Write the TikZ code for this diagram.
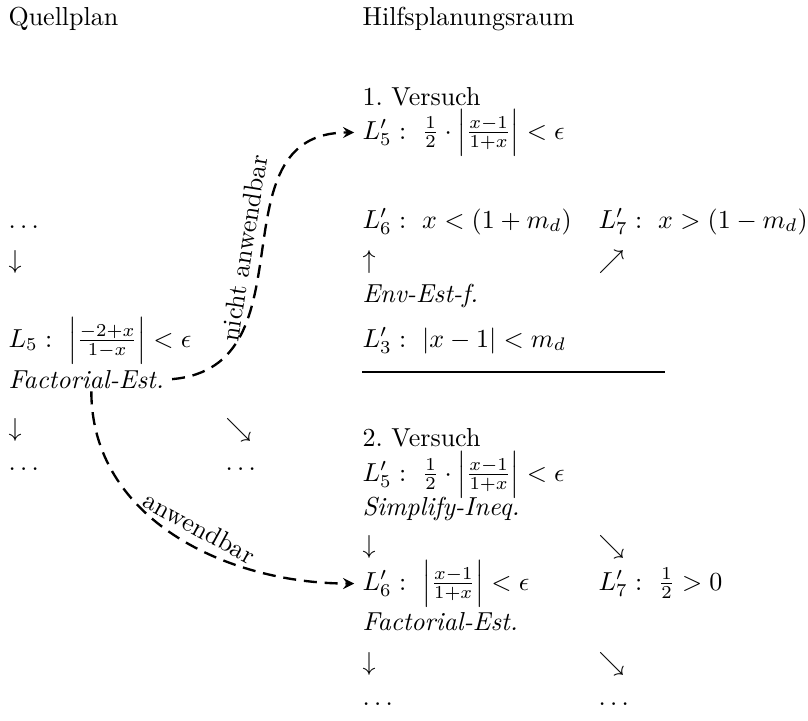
\documentclass[tikz,border=0pt]{standalone}
\usetikzlibrary{arrows}
\begin{document}
\begin{tikzpicture}[x=0.3846pt, y=-0.3846pt, line join=round, >=stealth,
    txt/.style={anchor=base west, inner sep=0pt},
    plan/.style={->, dash pattern=on 5pt off 3pt, line width=0.9pt}]
\useasboundingbox (0,0) rectangle (808,720);
% Kopfzeile
\node[txt] (quell) at (8,25) {Quellplan};
\node[txt] (hilfs) at (362,25) {Hilfsplanungsraum};
% Quellplan
\node[txt] (qdots) at (8,228) {$\ldots$};
\node[txt] (qdown) at (8,268) {$\downarrow$};
\node[txt] (qlfuenf) at (8,347) {$L_5 :\ \left|\frac{-2+x}{1-x}\right| < \epsilon$};
\node[txt] (qfact) at (8,388) {\textit{Factorial-Est.}};
\node[txt] (qdowna) at (8,436) {$\downarrow$};
\node[txt] (qdiag) at (225,436) {$\searrow$};
\node[txt] (qdotsa) at (8,470) {$\ldots$};
\node[txt] (qdotsb) at (225,470) {$\ldots$};
% 1. Versuch
\node[txt] (vers1) at (362,105) {1.\ Versuch};
\node[txt] (hlfuenf) at (362,139) {$L'_5 :\ \frac{1}{2}\cdot\left|\frac{x-1}{1+x}\right| < \epsilon$};
\node[txt] (hlsechs) at (362,228) {$L'_6 :\ x < (1+m_d)$};
\node[txt] (hlsieben) at (598,228) {$L'_7 :\ x > (1-m_d)$};
\node[txt] (hup) at (362,268) {$\uparrow$};
\node[txt] (hne) at (598,268) {$\nearrow$};
\node[txt] (henv) at (362,302) {\textit{Env-Est-f.}};
\node[txt] (hldrei) at (362,347) {$L'_3 :\ |x-1| < m_d$};
\draw[line width=0.8pt] (362,372) -- (665,372);
% 2. Versuch
\node[txt] (vers2) at (362,446) {2.\ Versuch};
\node[txt] (hlfuenfb) at (362,481) {$L'_5 :\ \frac{1}{2}\cdot\left|\frac{x-1}{1+x}\right| < \epsilon$};
\node[txt] (hsimp) at (362,515) {\textit{Simplify-Ineq.}};
\node[txt] (hdown) at (362,553) {$\downarrow$};
\node[txt] (hdiag) at (598,553) {$\searrow$};
\node[txt] (hlsechsb) at (362,590) {$L'_6 :\ \left|\frac{x-1}{1+x}\right| < \epsilon$};
\node[txt] (hlsiebenb) at (598,590) {$L'_7 :\ \frac{1}{2} > 0$};
\node[txt] (hfact) at (362,630) {\textit{Factorial-Est.}};
\node[txt] (hdowna) at (362,670) {$\downarrow$};
\node[txt] (hdiaga) at (598,670) {$\searrow$};
\node[txt] (hdots) at (362,705) {$\ldots$};
\node[txt] (hdotsb) at (598,705) {$\ldots$};
% Uebertragung
\draw[plan] ([xshift=3pt]qfact.east) to[out=5,in=180,looseness=1.2] node[sloped,above,pos=0.5]{nicht anwendbar} ([xshift=-3pt]hlfuenf.west);
\draw[plan] ([xshift=2pt,yshift=-1pt]qfact.south) to[out=-90,in=180] node[sloped,above,pos=0.55]{anwendbar} ([xshift=-3pt]hlsechsb.west);
\end{tikzpicture}
\end{document}
